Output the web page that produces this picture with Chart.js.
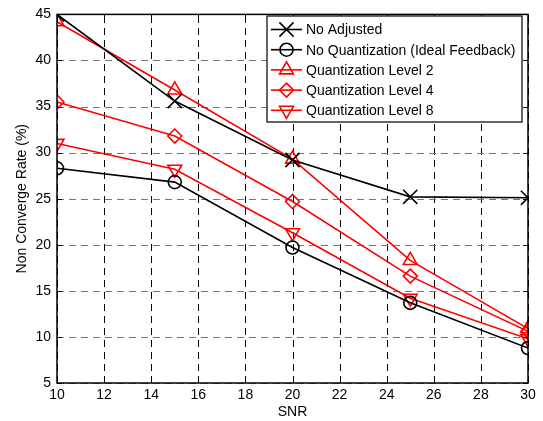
<!DOCTYPE html>
<html>
<head>
<meta charset="utf-8">
<script src="https://cdn.jsdelivr.net/npm/chart.js@4/dist/chart.umd.min.js"></script>
<style>
    html, body { margin: 0; padding: 0; background: #fff; }
    #wrap { width: 543px; height: 421px; }
</style>
</head>
<body>
<div id="wrap"><canvas id="snrChart" width="543" height="421"></canvas></div>
<script>
// SNR values (x axis)
const snr = [10, 15, 20, 25, 30];

// Series values
const noAdjusted = [45.0, 35.6, 29.2, 25.2, 25.1];
const noQuantization = [28.3, 26.8, 19.7, 13.7, 8.8];
const quantLevel2 = [44.2, 36.8, 29.3, 18.3, 10.9];
const quantLevel4 = [35.5, 31.8, 24.7, 16.6, 10.6];
const quantLevel8 = [31.0, 28.2, 21.3, 14.2, 9.8];

const seriesLabels = [
    'No Adjusted',
    'No Quantization (Ideal Feedback)',
    'Quantization Level 2',
    'Quantization Level 4',
    'Quantization Level 8'
];

// Tick labels
const xTicks = [10, 12, 14, 16, 18, 20, 22, 24, 26, 28, 30];
const yTicks = [5, 10, 15, 20, 25, 30, 35, 40, 45];

const FONT = 'Liberation Sans, Arial, Helvetica, sans-serif';

function toPoints(values) {
    return values.map((v, i) => ({ x: snr[i], y: v }));
}

function makeDataset(label, values, color, style, rotation, radius) {
    return {
        label: label,
        data: toPoints(values),
        borderColor: color,
        backgroundColor: 'transparent',
        borderWidth: 1.6,
        pointStyle: style,
        pointRotation: rotation,
        pointRadius: radius,
        pointBorderColor: color,
        pointBackgroundColor: 'transparent',
        pointBorderWidth: 1.6,
        tension: 0
    };
}

// Dashed grid (black vertical, grey horizontal)
const gridPlugin = {
    id: 'gridPlugin',
    beforeDatasetsDraw(chart) {
        const { ctx, chartArea: a, scales } = chart;
        ctx.save();
        ctx.lineWidth = 1;
        ctx.setLineDash([7, 5]);
        ctx.strokeStyle = '#000';
        ctx.beginPath();
        xTicks.forEach(t => {
            const px = Math.round(scales.x.getPixelForValue(t)) + 0.5;
            ctx.moveTo(px, a.bottom);
            ctx.lineTo(px, a.top);
        });
        ctx.stroke();
        ctx.strokeStyle = '#777';
        ctx.beginPath();
        yTicks.forEach(t => {
            const py = Math.round(scales.y.getPixelForValue(t)) + 0.5;
            ctx.moveTo(a.left, py);
            ctx.lineTo(a.right, py);
        });
        ctx.stroke();
        ctx.restore();
    }
};

// Inner ticks and the solid axes box, like a MATLAB figure
const boxPlugin = {
    id: 'boxPlugin',
    afterDatasetsDraw(chart) {
        const { ctx, chartArea: a, scales } = chart;
        ctx.save();
        ctx.strokeStyle = '#000';
        ctx.lineWidth = 1;
        ctx.setLineDash([]);
        ctx.beginPath();
        xTicks.forEach(t => {
            const px = Math.round(scales.x.getPixelForValue(t)) + 0.5;
            ctx.moveTo(px, a.bottom); ctx.lineTo(px, a.bottom - 5);
            ctx.moveTo(px, a.top); ctx.lineTo(px, a.top + 5);
        });
        yTicks.forEach(t => {
            const py = Math.round(scales.y.getPixelForValue(t)) + 0.5;
            ctx.moveTo(a.left, py); ctx.lineTo(a.left + 5, py);
            ctx.moveTo(a.right, py); ctx.lineTo(a.right - 5, py);
        });
        ctx.stroke();
        ctx.lineWidth = 1.5;
        ctx.strokeRect(a.left, a.top, a.right - a.left, a.bottom - a.top);
        ctx.restore();
    }
};

// Boxed legend in the top right of the plot
const legendPlugin = {
    id: 'legendPlugin',
    afterDraw(chart) {
        const ctx = chart.ctx;
        const boxX = 267, boxY = 16, boxW = 255, boxH = 106;
        const rowH = 20.2;
        ctx.save();
        ctx.fillStyle = '#fff';
        ctx.fillRect(boxX, boxY, boxW, boxH);
        ctx.strokeStyle = '#000';
        ctx.lineWidth = 1.2;
        ctx.strokeRect(boxX, boxY, boxW, boxH);
        ctx.font = '14px ' + FONT;
        ctx.textBaseline = 'middle';
        chart.data.datasets.forEach((ds, i) => {
            const y = boxY + 13.5 + i * rowH;
            ctx.strokeStyle = ds.borderColor;
            ctx.lineWidth = ds.borderWidth;
            ctx.beginPath();
            ctx.moveTo(271, y);
            ctx.lineTo(302, y);
            ctx.stroke();
            ctx.fillStyle = 'rgba(0,0,0,0)';
            Chart.helpers.drawPoint(ctx, {
                pointStyle: ds.pointStyle,
                rotation: ds.pointRotation,
                radius: ds.pointRadius,
                borderWidth: ds.pointBorderWidth
            }, 286.5, y);
            ctx.fillStyle = '#000';
            ctx.fillText(ds.label, 306, y + 1);
        });
        ctx.restore();
    }
};

new Chart(document.getElementById('snrChart'), {
    type: 'line',
    data: {
        datasets: [
            makeDataset(seriesLabels[0], noAdjusted, '#000', 'crossRot', 0, 10),
            makeDataset(seriesLabels[1], noQuantization, '#000', 'circle', 0, 6.5),
            makeDataset(seriesLabels[2], quantLevel2, '#ff0000', 'triangle', 0, 8),
            makeDataset(seriesLabels[3], quantLevel4, '#ff0000', 'rectRot', 0, 7),
            makeDataset(seriesLabels[4], quantLevel8, '#ff0000', 'triangle', 180, 8)
        ]
    },
    options: {
        responsive: false,
        animation: false,
        devicePixelRatio: 1,
        layout: { padding: { left: 0, top: 11.5, right: 15, bottom: 0 } },
        plugins: {
            legend: { display: false },
            tooltip: { enabled: false }
        },
        scales: {
            x: {
                type: 'linear',
                min: 10,
                max: 30,
                afterFit(scale) { scale.height = 38; },
                afterBuildTicks(scale) { scale.ticks = xTicks.map(v => ({ value: v })); },
                ticks: {
                    color: '#000',
                    padding: 4,
                    maxRotation: 0,
                    autoSkip: false,
                    font: { family: FONT, size: 14 }
                },
                grid: { display: false, drawTicks: false },
                border: { display: false },
                title: {
                    display: true,
                    text: 'SNR',
                    color: '#000',
                    padding: { top: 0, bottom: 0 },
                    font: { family: FONT, size: 14, lineHeight: 1.2 }
                }
            },
            y: {
                min: 5,
                max: 45,
                afterFit(scale) { scale.width = 57; },
                afterBuildTicks(scale) { scale.ticks = yTicks.map(v => ({ value: v })); },
                ticks: {
                    color: '#000',
                    padding: 6,
                    autoSkip: false,
                    font: { family: FONT, size: 14 }
                },
                grid: { display: false, drawTicks: false },
                border: { display: false },
                title: {
                    display: true,
                    text: 'Non Converge Rate (%)',
                    color: '#000',
                    padding: { top: 13.5, bottom: 0 },
                    font: { family: FONT, size: 14, lineHeight: 1.2 }
                }
            }
        }
    },
    plugins: [gridPlugin, boxPlugin, legendPlugin]
});
</script>
</body>
</html>
